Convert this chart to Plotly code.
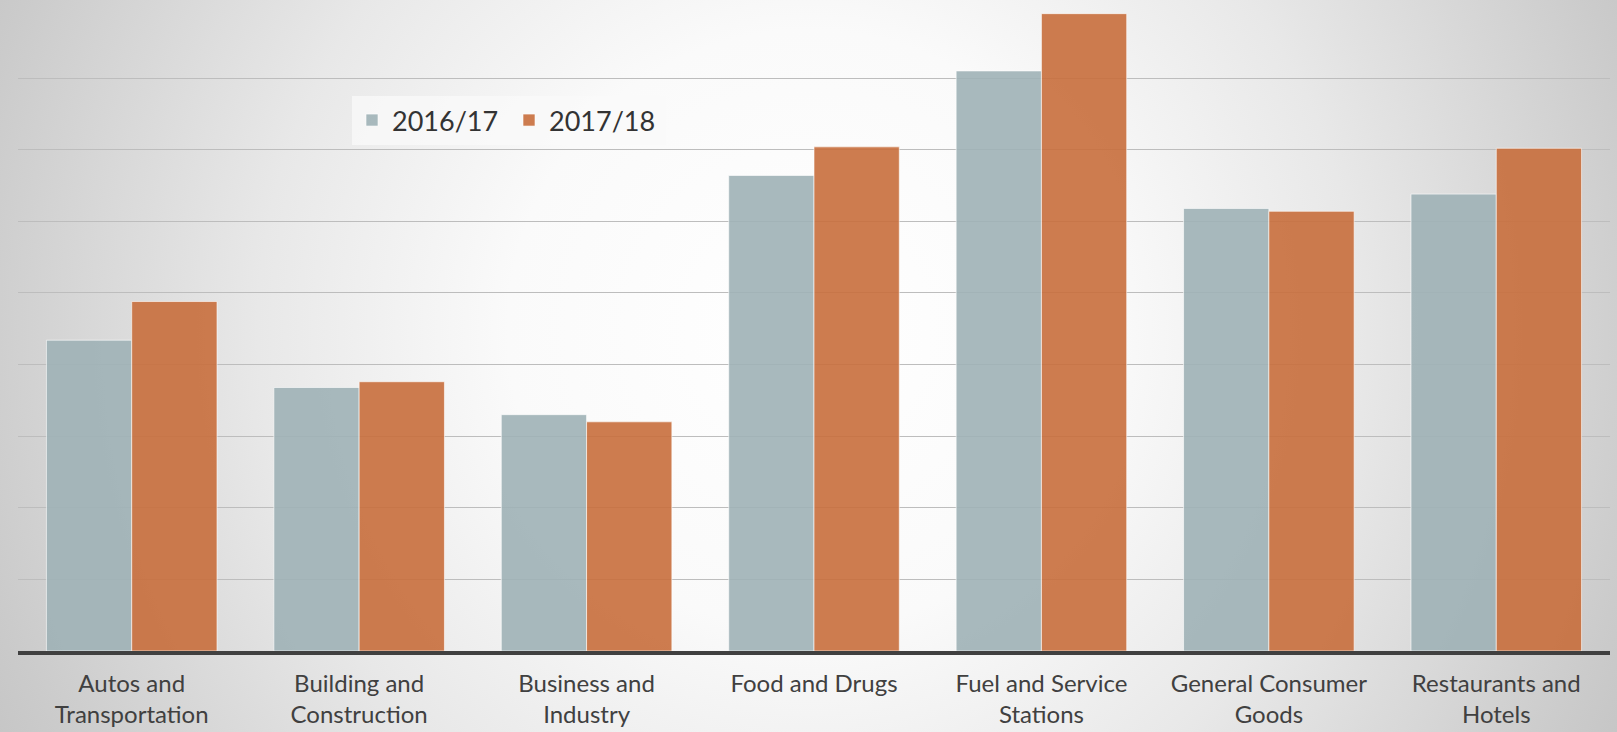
import base64
import plotly.graph_objects as go

categories = ["Autos and<br>Transportation", "Building and<br>Construction", "Business and<br>Industry",
              "Food and Drugs", "Fuel and Service<br>Stations", "General Consumer<br>Goods",
              "Restaurants and<br>Hotels"]
series_names = ["2016/17", "2017/18"]
values_2016 = [21.7, 18.4, 16.5, 33.2, 40.5, 30.9, 31.9]
values_2017 = [24.4, 18.8, 16.0, 35.2, 44.5, 30.7, 35.1]

W, H = 1617, 732

svg = f'''<svg xmlns="http://www.w3.org/2000/svg" width="{W}" height="{H}" viewBox="0 0 {W} {H}" preserveAspectRatio="none">
<defs><radialGradient id="g" gradientUnits="userSpaceOnUse" cx="808" cy="330" r="1000">
<stop offset="0" stop-color="#ffffff"/>
<stop offset="0.3" stop-color="#fafafa"/>
<stop offset="0.55" stop-color="#e8e8e8"/>
<stop offset="0.85" stop-color="#cbcbcb"/>
<stop offset="1" stop-color="#bebebe"/>
</radialGradient></defs>
<rect x="0" y="0" width="{W}" height="{H}" fill="url(#g)"/>
</svg>'''
bg_src = "data:image/svg+xml;base64," + base64.b64encode(svg.encode()).decode()

fig = go.Figure()
fig.add_trace(go.Bar(x=categories, y=values_2016, name=series_names[0],
                     marker=dict(color="rgba(158,177,182,0.9)",
                                 line=dict(color="rgba(255,255,255,0.6)", width=1))))
fig.add_trace(go.Bar(x=categories, y=values_2017, name=series_names[1],
                     marker=dict(color="rgba(200,110,60,0.9)",
                                 line=dict(color="rgba(255,255,255,0.6)", width=1))))

fig.update_layout(
    width=W, height=H,
    margin=dict(l=0, r=0, t=0, b=0),
    paper_bgcolor="#e0e0e0",
    plot_bgcolor="rgba(0,0,0,0)",
    images=[dict(source=bg_src, xref="paper", yref="paper", x=0, y=1, sizex=1, sizey=1,
                 sizing="stretch", xanchor="left", yanchor="top", layer="below")],
    barmode="group", bargap=0.25, bargroupgap=0,
    font=dict(family="Lato, sans-serif", color="#404040"),
    showlegend=True,
    legend=dict(orientation="h", x=352 / W, y=1 - 96 / H, xanchor="left", yanchor="top",
                bgcolor="rgba(250,250,250,0.75)", font=dict(size=27, color="#333333"),
                entrywidth=112, itemclick=False),
    xaxis=dict(domain=[18 / W, 1610 / W], showline=True, linecolor="#404040", linewidth=3.5,
               ticks="", tickfont=dict(size=24, color="#404040"), ticklabelstandoff=8,
               showgrid=False),
    yaxis=dict(domain=[(H - 651) / H, (H - 6.5) / H], range=[0, 45], dtick=5,
               showticklabels=False, showgrid=True, gridcolor="#bdbdbd", gridwidth=1.3,
               zeroline=False, showline=False),
)

fig.write_html("out.html")
